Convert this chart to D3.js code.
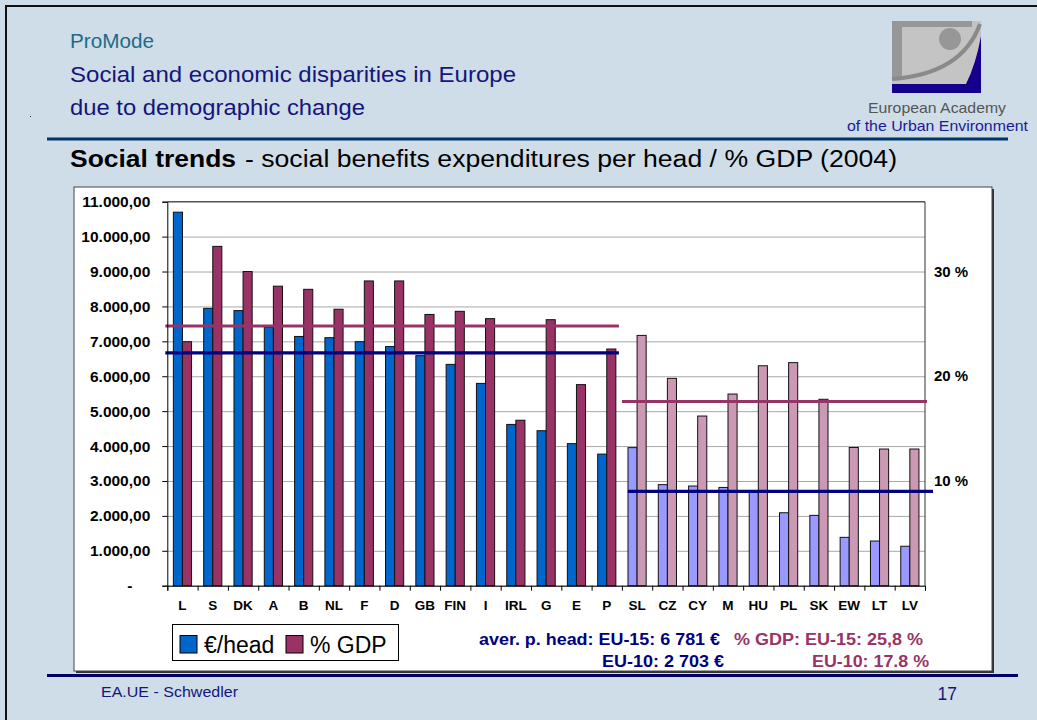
<!DOCTYPE html>
<html>
<head>
<meta charset="utf-8">
<script src="https://cdn.jsdelivr.net/npm/d3@7"></script>
<style>
  html, body { margin: 0; padding: 0; background: #CFDDE9; }
  svg { display: block; font-family: "Liberation Sans", Arial, sans-serif; }
</style>
</head>
<body>
<script>
// ---------------- DATA ----------------
const countries = ["L","S","DK","A","B","NL","F","D","GB","FIN","I","IRL","G","E","P",
                   "SL","CZ","CY","M","HU","PL","SK","EW","LT","LV"];
const groups    = ["EU-15","EU-15","EU-15","EU-15","EU-15","EU-15","EU-15","EU-15","EU-15","EU-15","EU-15","EU-15","EU-15","EU-15","EU-15",
                   "EU-10","EU-10","EU-10","EU-10","EU-10","EU-10","EU-10","EU-10","EU-10","EU-10"];
// social benefits expenditures per head (EUR)
const perHead   = [10700, 7945, 7880, 7400, 7140, 7105, 6990, 6850, 6590, 6340, 5795, 4620, 4440, 4070, 3770,
                   3955, 2895, 2855, 2815, 2700, 2090, 2015, 1385, 1280, 1130];
// social benefits expenditures in % of GDP
const gdpShare  = [23.3, 32.4, 30.0, 28.6, 28.3, 26.4, 29.1, 29.1, 25.9, 26.2, 25.5, 15.8, 25.4, 19.2, 22.6,
                   23.9, 19.8, 16.2, 18.3, 21.0, 21.3, 17.8, 13.2, 13.05, 13.05];
// average lines as drawn (value level)
const avgGroups   = ["EU-15", "EU-10"];
const avgHeadLine = [6670, 2703];
const avgGdpLine  = [24.8, 17.6];
// tick labels
const yTicks   = [0,1000,2000,3000,4000,5000,6000,7000,8000,9000,10000,11000];
const pctTicks = [10, 20, 30];
const legendLabels = ["€/head", "% GDP"];
const noteHead = ["aver. p. head: EU-15: 6 781 €", "EU-10: 2 703 €"];
const noteGdp  = ["% GDP: EU-15: 25,8 %", "EU-10: 17.8 %"];

// ---------------- STYLE ----------------
const W = 1037, H = 720;
const colors = {
  "EU-15": { head: "#0066CC", gdp: "#993366" },
  "EU-10": { head: "#9999FF", gdp: "#CC99B4" }
};
const navy = "#000080", plum = "#993366";

const svg = d3.select("body").append("svg").attr("width", W).attr("height", H);

function stretched(sel, len) {
  return sel.attr("textLength", len).attr("lengthAdjust", "spacingAndGlyphs");
}

// slide background + frame
svg.append("rect").attr("width", W).attr("height", H).attr("fill", "#CFDDE9");
svg.append("line").attr("x1", 5).attr("x2", W).attr("y1", 6).attr("y2", 6).attr("stroke", "#111").attr("stroke-width", 2);
svg.append("line").attr("x1", 6).attr("x2", 6).attr("y1", 5).attr("y2", H).attr("stroke", "#111").attr("stroke-width", 2);
svg.append("rect").attr("x", 30).attr("y", 116).attr("width", 1).attr("height", 1).attr("fill", "#333");

// header texts
stretched(svg.append("text").attr("x", 70).attr("y", 48).attr("font-size", 20).attr("fill", "#1F6A86").text("ProMode"), 84);
stretched(svg.append("text").attr("x", 70).attr("y", 82).attr("font-size", 22).attr("fill", "#15157A").text("Social and economic disparities in Europe"), 446);
stretched(svg.append("text").attr("x", 70).attr("y", 115).attr("font-size", 22).attr("fill", "#15157A").text("due to demographic change"), 295);
svg.append("line").attr("x1", 47).attr("x2", 1008).attr("y1", 139).attr("y2", 139).attr("stroke", "#003366").attr("stroke-width", 3);

stretched(svg.append("text").attr("x", 70).attr("y", 167).attr("font-size", 23).attr("font-weight", "bold").attr("fill", "#000").text("Social trends"), 166);
stretched(svg.append("text").attr("x", 245).attr("y", 167).attr("font-size", 23).attr("fill", "#000")
  .text("- social benefits expenditures per head / % GDP (2004)"), 652);

// logo
const logo = svg.append("g");
logo.append("rect").attr("x", 892).attr("y", 21).attr("width", 89).attr("height", 72).attr("fill", "#C4C4C4");
logo.append("rect").attr("x", 892).attr("y", 21).attr("width", 80).attr("height", 6).attr("fill", "#979797");
logo.append("rect").attr("x", 892).attr("y", 21).attr("width", 10).attr("height", 56).attr("fill", "#979797");
logo.append("circle").attr("cx", 950).attr("cy", 39).attr("r", 11).attr("fill", "#979797");
logo.append("path").attr("d", "M981,36 L981,84 L966,84 Q976,64 981,36 Z").attr("fill", "#14008C");
logo.append("path").attr("d", "M892,79 Q962,74 980,24").attr("fill", "none").attr("stroke", "#8A8A8A").attr("stroke-width", 4);
logo.append("rect").attr("x", 892).attr("y", 84).attr("width", 89).attr("height", 9).attr("fill", "#14008C");
stretched(svg.append("text").attr("x", 868).attr("y", 113).attr("font-size", 15).attr("fill", "#555").text("European Academy"), 138);
stretched(svg.append("text").attr("x", 847).attr("y", 131).attr("font-size", 15).attr("fill", "#1A1A99").text("of the Urban Environment"), 181);

// chart box
svg.append("rect").attr("x", 76).attr("y", 189).attr("width", 918).attr("height", 484).attr("fill", "#333");
svg.append("rect").attr("x", 74).attr("y", 187).attr("width", 918).attr("height", 484).attr("fill", "#fff").attr("stroke", "#444").attr("stroke-width", 1);

// footer
svg.append("line").attr("x1", 47).attr("x2", 1018).attr("y1", 675.5).attr("y2", 675.5).attr("stroke", "#000066").attr("stroke-width", 3);
stretched(svg.append("text").attr("x", 101).attr("y", 697).attr("font-size", 15.5).attr("fill", "#15157A").text("EA.UE - Schwedler"), 137);
svg.append("text").attr("x", 957).attr("y", 700).attr("text-anchor", "end").attr("font-size", 17.5).attr("fill", "#15157A").text("17");

// ---------------- SCALES ----------------
const plot = { left: 167.3, right: 925, top: 201.7, bottom: 585.7 };
const x = d3.scaleBand().domain(countries).range([plot.left, plot.right]).paddingInner(0.4).paddingOuter(0.2);
const sub = d3.scaleBand().domain(["head", "gdp"]).range([0, x.bandwidth()]);
const y = d3.scaleLinear().domain([0, 11000]).range([plot.bottom, plot.top]);
const yPct = d3.scaleLinear().domain([0, 11000 / 300]).range([plot.bottom, plot.top]);
const boundary = d3.scaleLinear().domain([0, countries.length]).range([plot.left, plot.right]);

const de = d3.formatLocale({ decimal: ",", thousands: ".", grouping: [3], currency: ["", "€"] });
const fmt = de.format(",.2f");

// gridlines
svg.append("g").attr("transform", `translate(${plot.left},0)`)
  .call(d3.axisLeft(y).tickValues(yTicks).tickSize(-(plot.right - plot.left)).tickFormat(""))
  .call(g => g.select(".domain").remove())
  .call(g => g.selectAll("line").attr("stroke", "#A8A8A8").attr("stroke-width", 1));

// plot frame top/right
svg.append("line").attr("x1", plot.left).attr("x2", plot.right).attr("y1", plot.top).attr("y2", plot.top).attr("stroke", "#333");
svg.append("line").attr("x1", plot.right).attr("x2", plot.right).attr("y1", plot.top).attr("y2", plot.bottom).attr("stroke", "#333");

// bars
const rows = countries.map((c, i) => ({ c, g: groups[i], head: perHead[i], gdp: gdpShare[i] }));
const bars = svg.append("g");
bars.selectAll("rect.head").data(rows).join("rect").attr("class", "head")
  .attr("x", d => x(d.c) + sub("head")).attr("width", sub.bandwidth())
  .attr("y", d => y(d.head)).attr("height", d => y(0) - y(d.head))
  .attr("fill", d => colors[d.g].head).attr("stroke", "#111").attr("stroke-width", 1);
bars.selectAll("rect.gdp").data(rows).join("rect").attr("class", "gdp")
  .attr("x", d => x(d.c) + sub("gdp")).attr("width", sub.bandwidth())
  .attr("y", d => yPct(d.gdp)).attr("height", d => yPct(0) - yPct(d.gdp))
  .attr("fill", d => colors[d.g].gdp).attr("stroke", "#111").attr("stroke-width", 1);

// average lines
const split = groups.indexOf("EU-10");
const lineSpan = {
  "EU-15": [boundary(0) - 2, boundary(split) - 3],
  "EU-10": [boundary(split), boundary(countries.length) + 2]
};
avgGroups.forEach((g, i) => {
  const [a, b] = lineSpan[g];
  svg.append("line").attr("x1", a).attr("x2", b).attr("y1", yPct(avgGdpLine[i])).attr("y2", yPct(avgGdpLine[i]))
    .attr("stroke", plum).attr("stroke-width", 3);
  const off = g === "EU-10" ? 6 : 0;
  svg.append("line").attr("x1", a + off).attr("x2", b + off).attr("y1", y(avgHeadLine[i])).attr("y2", y(avgHeadLine[i]))
    .attr("stroke", navy).attr("stroke-width", 3.2);
});

// y axis
svg.append("g").attr("transform", `translate(${plot.left},0)`)
  .call(d3.axisLeft(y).tickValues(yTicks).tickSize(5).tickPadding(12).tickFormat(d => d === 0 ? "-" : fmt(d)))
  .call(g => g.selectAll("path,line").attr("stroke", "#000"))
  .call(g => g.selectAll("text").attr("font-size", 15.5).attr("font-weight", "bold").attr("fill", "#000")
    .attr("font-family", "'Liberation Sans', Arial, sans-serif"))
  .call(g => g.selectAll(".tick").filter(d => d === 0).select("text").attr("x", -35));

// x axis: boundary ticks
svg.append("g").attr("transform", `translate(0,${plot.bottom})`)
  .call(d3.axisBottom(boundary).tickValues(d3.range(countries.length + 1)).tickSize(5).tickFormat(""))
  .call(g => g.selectAll("path,line").attr("stroke", "#000"));
// x axis: category labels
svg.append("g").attr("transform", `translate(0,${plot.bottom})`)
  .call(d3.axisBottom(x).tickSize(0).tickPadding(15))
  .call(g => g.select(".domain").remove())
  .call(g => g.selectAll("text").attr("font-size", 13.5).attr("font-weight", "bold").attr("fill", "#000")
    .attr("font-family", "'Liberation Sans', Arial, sans-serif"));

// right % labels
svg.append("g").selectAll("text").data(pctTicks).join("text")
  .attr("x", 934).attr("y", d => yPct(d)).attr("dy", "0.35em")
  .attr("font-size", 15).attr("font-weight", "bold").attr("fill", "#000")
  .text(d => d + " %");

// legend
const lg = svg.append("g");
lg.append("rect").attr("x", 172.5).attr("y", 624.5).attr("width", 226).attr("height", 36).attr("fill", "#fff").attr("stroke", "#000");
const legendColors = [colors["EU-15"].head, colors["EU-15"].gdp];
const legendX = [180, 286];
legendLabels.forEach((t, i) => {
  lg.append("rect").attr("x", legendX[i]).attr("y", 635.5).attr("width", 17).attr("height", 17.5)
    .attr("fill", legendColors[i]).attr("stroke", "#000");
  lg.append("text").attr("x", legendX[i] + 24).attr("y", 652.5).attr("font-size", 23).attr("fill", "#000").text(t);
});

// notes
stretched(svg.append("text").attr("x", 479).attr("y", 645).attr("font-size", 16).attr("font-weight", "bold").attr("fill", navy).text(noteHead[0]), 241);
stretched(svg.append("text").attr("x", 602).attr("y", 667).attr("font-size", 16).attr("font-weight", "bold").attr("fill", navy).text(noteHead[1]), 122);
stretched(svg.append("text").attr("x", 734).attr("y", 645).attr("font-size", 16).attr("font-weight", "bold").attr("fill", plum).text(noteGdp[0]), 189);
stretched(svg.append("text").attr("x", 812).attr("y", 667).attr("font-size", 16).attr("font-weight", "bold").attr("fill", plum).text(noteGdp[1]), 117);
</script>
</body>
</html>
